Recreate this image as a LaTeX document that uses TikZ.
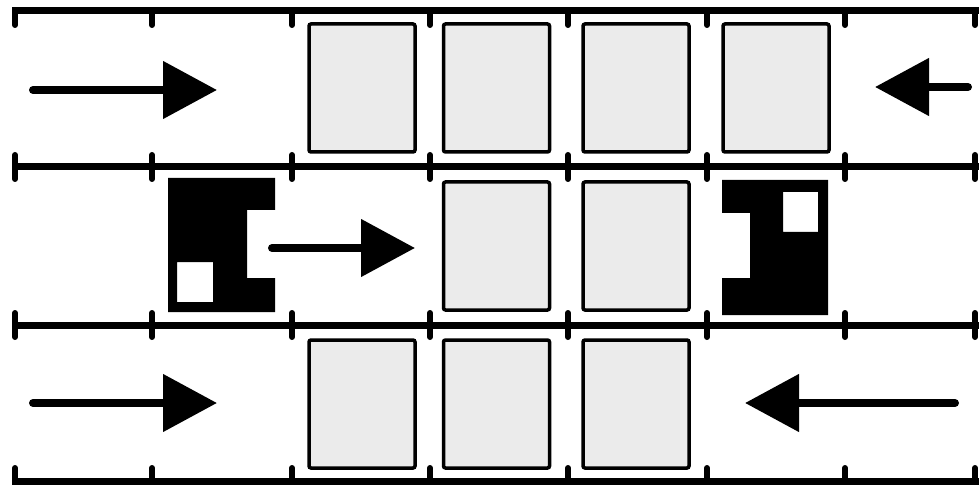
\documentclass[tikz,border=0pt]{standalone}
\usetikzlibrary{arrows.meta}
\begin{document}
\begin{tikzpicture}[x=1pt,y=-1pt,
  lane/.style={line width=7pt},
  tickmark/.style={line width=6pt, line cap=round},
  car/.style={draw, line width=3.5pt, fill=gray!16, rounded corners=2pt,
    minimum width=106pt, minimum height=128pt, inner sep=0pt},
  flow/.style={line width=8pt, line cap=round, -{Triangle[length=54pt,width=56pt]}},
  blk/.style={fill=black, even odd rule}]
\useasboundingbox (0,0) rectangle (979,486);
% lane lines
\foreach \y in {11,167,325,481} \draw[lane] (12,\y) -- (979,\y);
% ticks
\foreach \x in {15,152,292,430,568,707,845,975} {
  \draw[tickmark] (\x,11) -- (\x,25);
  \draw[tickmark] (\x,155) -- (\x,179);
  \draw[tickmark] (\x,313) -- (\x,337);
  \draw[tickmark] (\x,468) -- (\x,481);
}
% top row cars
\node[car] (t1) at (362,88) {};
\node[car] (t2) at (496.5,88) {};
\node[car] (t3) at (636,88) {};
\node[car] (t4) at (776,88) {};
% middle row cars
\node[car] (m2) at (496.5,246) {};
\node[car] (m3) at (636,246) {};
% bottom row cars
\node[car] (b1) at (362,404) {};
\node[car] (b2) at (496.5,404) {};
\node[car] (b3) at (636,404) {};
% black shapes
\fill[blk] (168,178) -- (275,178) -- (275,210) -- (247,210) -- (247,278) -- (275,278) -- (275,312) -- (168,312) -- cycle
  (177,262) rectangle (213,302);
\fill[blk] (722,180) -- (828,180) -- (828,315) -- (722,315) -- (722,278) -- (750,278) -- (750,213) -- (722,213) -- cycle
  (783,192) rectangle (818,232);
% arrows
\coordinate (a1s) at (33,90);  \coordinate (a1e) at (217,90);
\coordinate (a2s) at (968,87); \coordinate (a2e) at (875,87);
\coordinate (a3s) at (272,248); \coordinate (a3e) at (415,248);
\coordinate (a4s) at (33,403); \coordinate (a4e) at (217,403);
\coordinate (a5s) at (955,403); \coordinate (a5e) at (745,403);
\draw[flow] (a1s) -- (a1e);
\draw[flow] (a2s) -- (a2e);
\draw[flow] (a3s) -- (a3e);
\draw[flow] (a4s) -- (a4e);
\draw[flow] (a5s) -- (a5e);
\end{tikzpicture}
\end{document}
